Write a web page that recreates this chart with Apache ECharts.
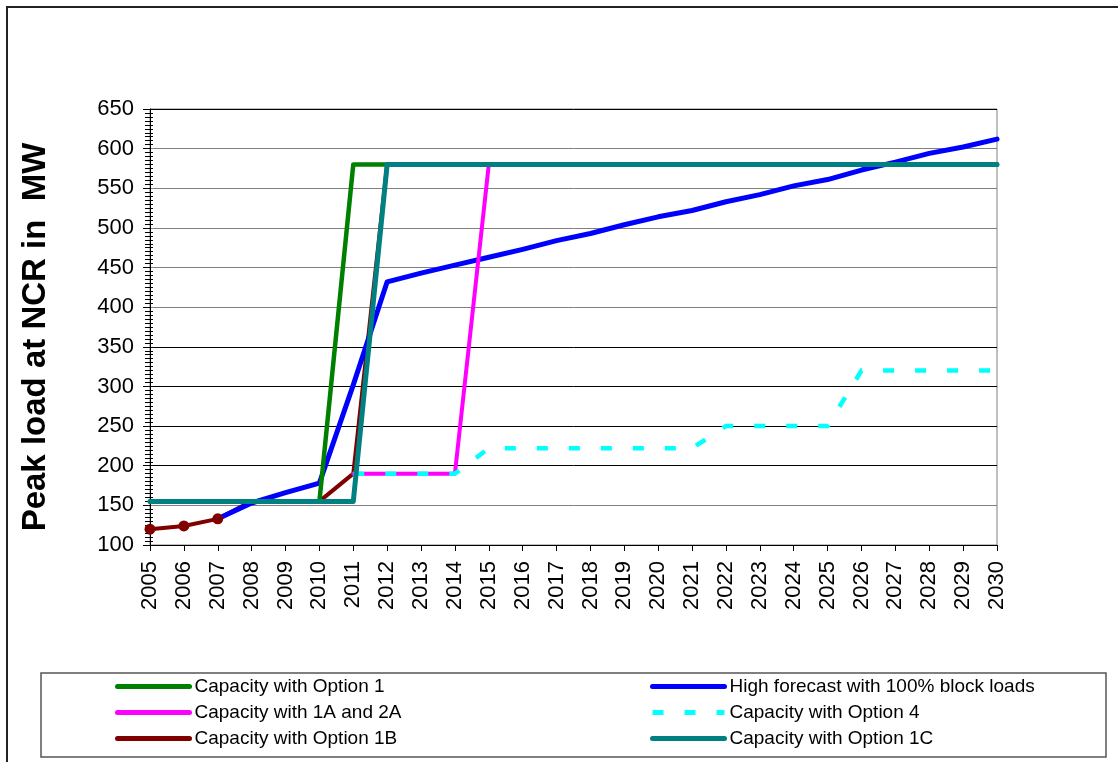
<!DOCTYPE html>
<html>
<head>
<meta charset="utf-8">
<title>Peak load at NCR</title>
<script src="https://cdn.jsdelivr.net/npm/echarts@6/dist/echarts.min.js"></script>
<style>
  html, body { margin: 0; padding: 0; background: #ffffff; }
  #chart { width: 1118px; height: 762px; }
</style>
</head>
<body>
<div id="chart"></div>
<script>
// Years on the category axis
const years = ['2005', '2006', '2007', '2008', '2009', '2010', '2011', '2012', '2013',
  '2014', '2015', '2016', '2017', '2018', '2019', '2020', '2021', '2022', '2023',
  '2024', '2025', '2026', '2027', '2028', '2029', '2030'];

// Peak load / capacity in MW, one value per year (null = no value)
const capacityOption1 = [155, 155, 155, 155, 155, 155, 580, 580, 580, 580, 580, 580, 580,
  580, 580, 580, 580, 580, 580, 580, 580, 580, 580, 580, 580, 580];
const highForecast = [null, null, 133, 153, 166, 178, 302, 432, 443, 453, 463, 473, 484,
  493, 504, 514, 522, 533, 542, 553, 561, 573, 583, 594, 602, 612];
const capacity1A2A = [null, null, null, null, null, null, 190, 190, 190, 190, 580, 580, 580,
  580, 580, 580, 580, 580, 580, 580, 580, 580, 580, 580, 580, 580];
const capacityOption4 = [null, null, null, null, null, null, 190, 190, 190, 190, 222, 222, 222,
  222, 222, 222, 222, 250, 250, 250, 250, 320, 320, 320, 320, 320];
const capacityOption1B = [120, 124, 133, 155, 155, 155, 190, 580, 580, 580, 580, 580, 580,
  580, 580, 580, 580, 580, 580, 580, 580, 580, 580, 580, 580, 580];
const capacityOption1C = [155, 155, 155, 155, 155, 155, 155, 580, 580, 580, 580, 580, 580,
  580, 580, 580, 580, 580, 580, 580, 580, 580, 580, 580, 580, 580];

// Number of leading Option 1B years that are recorded values (drawn with dots)
const recordedYears = 3;

// Y axis range and step
const yMin = 100;
const yMax = 650;
const yStep = 50;

const NAMES = {
  opt1: 'Capacity with Option 1',
  high: 'High forecast with 100% block loads',
  a2a: 'Capacity with 1A and 2A',
  opt4: 'Capacity with Option 4',
  opt1b: 'Capacity with Option 1B',
  opt1c: 'Capacity with Option 1C'
};

const FONT = '"Liberation Sans", Arial, sans-serif';

function line(name, data, color, width, extra) {
  return Object.assign({
    name: name,
    type: 'line',
    data: data,
    symbol: 'none',
    connectNulls: false,
    lineStyle: { color: color, width: width, cap: 'round', join: 'round' },
    itemStyle: { color: color },
    emphasis: { disabled: true }
  }, extra || {});
}

const option1BData = capacityOption1B.map((v, i) =>
  i < recordedYears ? { value: v, symbol: 'circle', symbolSize: 11 } : v);

// Split line colours, one per tick from yMin to yMax
const splitColors = ['#000000', '#808080', '#000000', '#000000', '#000000', '#000000',
  '#808080', '#808080', '#808080', '#808080', '#808080', '#000000'];

// Two vertical legend columns inside one framed box
const legendCommon = {
  orient: 'vertical',
  height: 120,
  itemWidth: 72,
  itemHeight: 14,
  itemGap: 7,
  selectedMode: false,
  itemStyle: { color: 'rgba(0,0,0,0)', borderWidth: 0, opacity: 0 },
  lineStyle: { width: 5 },
  textStyle: { fontFamily: FONT, fontSize: 19, color: '#000' }
};

const option = {
  animation: false,
  backgroundColor: '#ffffff',
  grid: {
    left: 150, top: 109, right: 121, bottom: 217,
    show: true, borderColor: '#808080', borderWidth: 1, backgroundColor: 'transparent'
  },
  graphic: [
    { type: 'rect', shape: { x: 7, y: 7, width: 1140, height: 790 },
      style: { fill: 'none', stroke: '#222', lineWidth: 2 }, silent: true },
    { type: 'rect', shape: { x: 41, y: 673, width: 1065, height: 84 },
      style: { fill: '#fff', stroke: '#555', lineWidth: 1.5 }, silent: true, z: 0 },
    { type: 'text', x: 36, y: 337, rotation: Math.PI / 2,
      style: { text: 'Peak load at NCR in  MW', font: 'bold 33px ' + FONT, fill: '#000',
        align: 'center', verticalAlign: 'middle' }, silent: true }
  ],
  legend: [
    Object.assign({ left: 110, top: 672, data: [NAMES.opt1, NAMES.a2a, NAMES.opt1b] }, legendCommon),
    Object.assign({ left: 645, top: 672, data: [NAMES.high, NAMES.opt4, NAMES.opt1c] }, legendCommon)
  ],
  xAxis: {
    type: 'category',
    data: years,
    boundaryGap: false,
    axisLine: { lineStyle: { color: '#000', width: 1 } },
    axisTick: { show: true, length: 6, lineStyle: { color: '#000' } },
    axisLabel: { rotate: 90, margin: 16, fontFamily: FONT, fontSize: 22, color: '#000', interval: 0 },
    splitLine: { show: false }
  },
  yAxis: [
    {
      type: 'value',
      min: yMin, max: yMax, interval: yStep,
      axisLine: { show: true, lineStyle: { color: '#000', width: 1 } },
      axisTick: { show: true, length: 7, lineStyle: { color: '#000' } },
      minorTick: { show: true, splitNumber: 10, length: 5, lineStyle: { color: '#000' } },
      axisLabel: { margin: 16, fontFamily: FONT, fontSize: 22, color: '#000' },
      splitLine: { show: true, lineStyle: { color: splitColors, width: 1 } }
    },
    {
      // inward-pointing minor ticks on the same edge
      type: 'value',
      position: 'left',
      min: yMin, max: yMax, interval: yStep,
      axisLine: { show: false },
      axisTick: { show: false, inside: true },
      axisLabel: { show: false },
      minorTick: { show: true, inside: true, splitNumber: 10, length: 3, lineStyle: { color: '#000' } },
      splitLine: { show: false }
    }
  ],
  series: [
    line(NAMES.opt1b, option1BData, '#800000', 4, { showSymbol: true, showAllSymbol: true }),
    line(NAMES.high, highForecast, '#0000ff', 5),
    line(NAMES.a2a, capacity1A2A, '#ff00ff', 4),
    line(NAMES.opt4, capacityOption4, '#00ffff', 4.5, {
      lineStyle: { color: '#00ffff', width: 4.5, type: [11, 21], cap: 'butt', join: 'miter' }
    }),
    line(NAMES.opt1, capacityOption1, '#008000', 4.5),
    line(NAMES.opt1c, capacityOption1C, '#008080', 5)
  ]
};

const chart = echarts.init(document.getElementById('chart'), null, { renderer: 'canvas' });
chart.setOption(option);
</script>
</body>
</html>
